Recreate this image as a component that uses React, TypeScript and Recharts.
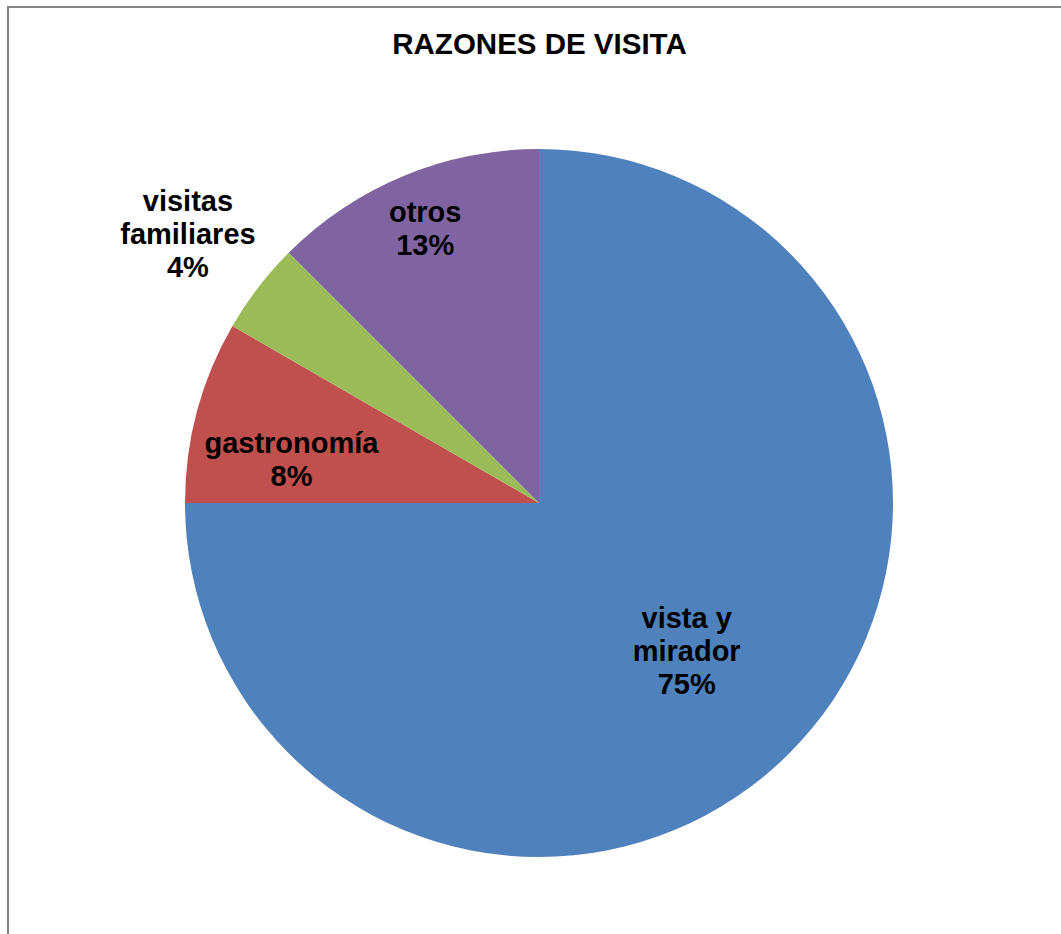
import { PieChart, Pie, Cell } from 'recharts';

const categories = ['vista y mirador', 'gastronomía', 'visitas familiares', 'otros'];
const counts = [18, 2, 1, 3];
const colors = ['#4F81BD', '#C0504D', '#9BBB59', '#8064A2'];

// label placement: distance from centre (share of outer radius) and angle nudge in degrees
const labelRadius = [0.59, 0.71, 1.25, 0.84];
const labelAngleShift = [0, 5, 0, 0];

const data = categories.map((name, i) => ({ name, value: counts[i] }));

const RADIAN = Math.PI / 180;
const LINE_H = 33;

// greedy word wrap, similar to what the spreadsheet does for data labels
function wrap(text: string, max = 8) {
  const lines: string[] = [];
  let cur = '';
  text.split(' ').forEach((w) => {
    if (!cur) cur = w;
    else if ((cur + ' ' + w).length <= max) cur = cur + ' ' + w;
    else {
      lines.push(cur);
      cur = w;
    }
  });
  if (cur) lines.push(cur);
  return lines;
}

const renderLabel = (props: any) => {
  const { cx, cy, midAngle, outerRadius, name, percent } = props;
  const idx = categories.indexOf(name);
  const r = outerRadius * labelRadius[idx];
  const a = (midAngle + labelAngleShift[idx]) * RADIAN;
  const x = cx + r * Math.cos(-a);
  const y = cy + r * Math.sin(-a);
  const lines = [...wrap(name), `${Math.round(percent * 100)}%`];
  const top = y - ((lines.length - 1) * LINE_H) / 2;
  return (
    <text
      x={x}
      y={top}
      textAnchor="middle"
      dominantBaseline="central"
      fill="#000"
      fontFamily="'Liberation Sans', Arial, sans-serif"
      fontWeight="bold"
      fontSize={29}
    >
      {lines.map((l, i) => (
        <tspan key={i} x={x} dy={i === 0 ? 0 : LINE_H}>
          {l}
        </tspan>
      ))}
    </text>
  );
};

export default function App() {
  return (
    <div
      style={{
        position: 'absolute',
        left: 0,
        top: 0,
        width: 1061,
        height: 934,
        overflow: 'hidden',
        background: '#fff',
      }}
    >
      <div
        style={{
          position: 'absolute',
          left: 7,
          top: 6,
          width: 1200,
          height: 1100,
          borderLeft: '2px solid #878787',
          borderTop: '2px solid #878787',
          boxSizing: 'border-box',
        }}
      />
      <div
        style={{
          position: 'absolute',
          left: 0,
          top: 27,
          width: 1079,
          textAlign: 'center',
          fontFamily: "'Liberation Sans', Arial, sans-serif",
          fontWeight: 'bold',
          fontSize: 29.5,
          lineHeight: '34px',
          color: '#000',
        }}
      >
        RAZONES DE VISITA
      </div>
      <div style={{ position: 'absolute', left: 0, top: 0 }}>
        <PieChart width={1061} height={934} margin={{ top: 0, right: 0, bottom: 0, left: 0 }}>
          <Pie
            data={data}
            dataKey="value"
            nameKey="name"
            cx={539}
            cy={503}
            outerRadius={354}
            startAngle={90}
            endAngle={-270}
            stroke="none"
            label={renderLabel}
            labelLine={false}
            isAnimationActive={false}
          >
            {data.map((d, i) => (
              <Cell key={d.name} fill={colors[i]} />
            ))}
          </Pie>
        </PieChart>
      </div>
    </div>
  );
}
